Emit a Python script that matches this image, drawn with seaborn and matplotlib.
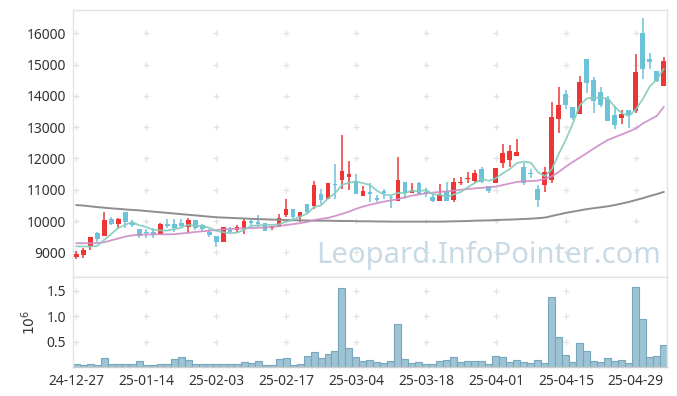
import numpy as np
import pandas as pd
import matplotlib
matplotlib.use("Agg")
import matplotlib.pyplot as plt
import seaborn as sns

# trading-day index labels (every 10th session gets a tick)
tick_pos = [0, 10, 20, 30, 40, 50, 60, 70, 80]
tick_labels = ["24-12-27", "25-01-14", "25-02-03", "25-02-17", "25-03-04",
               "25-03-18", "25-04-01", "25-04-15", "25-04-29"]

# OHLC
opens = [8860, 8915, 9180, 9607, 9533, 10055, 9895, 10280, 9948, 9735,
         9660, 9660, 9575, 9905, 9905, 9927, 9820, 10033, 9873, 9660,
         9533, 9340, 9714, 9714, 9780, 9995, 9978, 9925, 9767, 9820,
         10188, 10378, 10136, 10557, 10484, 10873, 10715, 11189, 11326, 11400,
         11294, 10799, 10926, 10746, 10947, 10770, 10641, 11252, 10900, 11206,
         10920, 10781, 10653, 10941, 10675, 11206, 11334, 11281, 11664, 11121,
         11206, 11845, 11952, 12090, 11718, 11547, 11020, 11140, 11322, 13275,
         14058, 13650, 13436, 15185, 14519, 14133, 13897, 13393, 13307, 13543,
         13521, 16021, 15185, 14809, 14326]
highs = [9040, 9130, 9500, 9640, 10300, 10140, 10087, 10300, 10030, 9760,
         9735, 9770, 9930, 10065, 10065, 10065, 10108, 10033, 9900, 9735,
         9533, 9800, 9820, 9873, 10100, 10060, 10188, 9925, 9841, 10210,
         10715, 10378, 10294, 10557, 11294, 11031, 11220, 11821, 12737, 11905,
         11505, 11105, 11210, 10820, 11031, 10820, 12052, 11252, 11220, 11260,
         11047, 10866, 11174, 11260, 11366, 11420, 11558, 11632, 11739, 11121,
         11686, 12463, 12431, 12612, 11845, 11654, 11150, 11720, 13790, 14272,
         14187, 13650, 14648, 15185, 14594, 14272, 14004, 13682, 13543, 13543,
         15346, 16504, 15378, 14809, 15238]
lows = [8800, 8810, 9075, 9340, 9520, 9870, 9735, 9780, 9800, 9470,
        9450, 9470, 9560, 9790, 9640, 9767, 9660, 9714, 9660, 9500,
        9160, 9340, 9620, 9640, 9600, 9841, 9820, 9693, 9714, 9820,
        10136, 10030, 9978, 10220, 10399, 10557, 10715, 10715, 11031, 10989,
        10852, 10799, 10610, 10610, 10715, 10400, 10641, 10715, 10900, 10834,
        10760, 10600, 10653, 10653, 10600, 11153, 11206, 11206, 11206, 10909,
        11206, 11707, 11718, 12090, 11153, 11366, 10450, 10920, 11215, 12824,
        13575, 13221, 13436, 14079, 13468, 13629, 13199, 12931, 13092, 12963,
        13468, 14541, 14862, 14433, 14326]
closes = [8960, 9075, 9480, 9426, 10033, 9895, 10055, 9980, 9873, 9520,
          9630, 9575, 9895, 9842, 9767, 9842, 10033, 9788, 9735, 9554,
          9320, 9800, 9640, 9820, 10000, 9946, 9904, 9693, 9841, 10083,
          10378, 10136, 10273, 10294, 11136, 10662, 11220, 11157, 11589, 11505,
          10852, 10947, 10873, 10662, 10905, 10720, 11315, 10884, 11000, 10866,
          10866, 10643, 10834, 10653, 11260, 11260, 11388, 11547, 11260, 10972,
          11686, 12165, 12239, 12197, 11206, 11505, 10670, 11570, 13328, 13714,
          13714, 13307, 14455, 14401, 13843, 13704, 13199, 13070, 13414, 13382,
          14777, 14862, 15099, 14487, 15131]

# moving averages as drawn
ma5 = [9190, 9185, 9185, 9200, 9395, 9582, 9778, 9878, 9967, 9865,
       9812, 9716, 9699, 9692, 9742, 9784, 9876, 9854, 9833, 9790,
       9686, 9639, 9610, 9627, 9716, 9841, 9862, 9873, 9877, 9893,
       9980, 10026, 10142, 10233, 10443, 10500, 10717, 10894, 11153, 11227,
       11265, 11210, 11153, 10968, 10848, 10821, 10895, 10897, 10965, 10957,
       10986, 10852, 10842, 10772, 10851, 10930, 11079, 11222, 11343, 11285,
       11371, 11526, 11664, 11852, 11899, 11862, 11563, 11430, 11656, 12157,
       12599, 13127, 13704, 13918, 13944, 13942, 13920, 13643, 13446, 13354,
       13568, 13901, 14307, 14521, 14871]
ma20 = [9290, 9290, 9290, 9295, 9320, 9380, 9440, 9500, 9540, 9560,
        9570, 9575, 9575, 9575, 9580, 9600, 9620, 9650, 9670, 9690,
        9710, 9735, 9745, 9755, 9765, 9775, 9785, 9790, 9810, 9840,
        9870, 9900, 9930, 9970, 10030, 10070, 10100, 10160, 10230, 10300,
        10390, 10460, 10520, 10570, 10620, 10660, 10700, 10760, 10810, 10850,
        10885, 10910, 10930, 10950, 10970, 11000, 11020, 11045, 11060, 11080,
        11100, 11150, 11200, 11250, 11270, 11280, 11290, 11350, 11430, 11570,
        11740, 11890, 12030, 12170, 12320, 12460, 12590, 12680, 12770, 12860,
        12960, 13120, 13240, 13360, 13650]
ma60 = [10510, 10495, 10470, 10445, 10425, 10405, 10390, 10370, 10355, 10340,
        10320, 10300, 10280, 10260, 10240, 10220, 10200, 10180, 10160, 10140,
        10120, 10110, 10100, 10090, 10080, 10070, 10060, 10055, 10045, 10040,
        10030, 10025, 10020, 10015, 10010, 10010, 10010, 10005, 10000, 10000,
        9995, 9990, 9990, 9985, 9985, 9980, 9980, 9980, 9980, 9980,
        9980, 9980, 9980, 9985, 9990, 9995, 10000, 10010, 10015, 10020,
        10030, 10040, 10045, 10055, 10065, 10075, 10090, 10110, 10160, 10210,
        10260, 10300, 10340, 10380, 10410, 10440, 10470, 10510, 10560, 10610,
        10670, 10730, 10800, 10860, 10930]

# volume in millions
volume = [0.077, 0.045, 0.064, 0.045, 0.19, 0.077, 0.064, 0.077, 0.064, 0.12,
          0.058, 0.058, 0.077, 0.077, 0.16, 0.20, 0.14, 0.077, 0.077, 0.064,
          0.077, 0.077, 0.064, 0.077, 0.10, 0.083, 0.12, 0.058, 0.058, 0.16,
          0.18, 0.058, 0.077, 0.23, 0.31, 0.18, 0.26, 0.33, 1.56, 0.39,
          0.21, 0.12, 0.15, 0.115, 0.096, 0.135, 0.85, 0.17, 0.096, 0.115,
          0.077, 0.077, 0.135, 0.15, 0.21, 0.115, 0.135, 0.135, 0.135, 0.077,
          0.23, 0.21, 0.115, 0.15, 0.115, 0.096, 0.15, 0.096, 1.37, 0.60,
          0.25, 0.115, 0.48, 0.33, 0.135, 0.115, 0.19, 0.135, 0.15, 0.096,
          1.58, 0.94, 0.21, 0.23, 0.44]

UP = "#ee3535"
DOWN = "#6cc2d8"
GRID = "#e2e2e2"
FRAME = "#e3e3e3"
TXT = "#333333"

sns.set_style("white")
plt.rcParams["font.family"] = ["Noto Sans", "DejaVu Sans"]

df = pd.DataFrame({"idx": np.arange(len(closes)), "open": opens, "high": highs,
                   "low": lows, "close": closes, "ma5": ma5, "ma20": ma20,
                   "ma60": ma60, "vol": volume})
df["up"] = df["close"] >= df["open"]
df["color"] = np.where(df["up"], UP, DOWN)
df["body_lo"] = df[["open", "close"]].min(axis=1)
df["body_h"] = (df["close"] - df["open"]).abs().clip(lower=25)

fig = plt.figure(figsize=(6.77, 3.96), dpi=100)
ax = fig.add_axes([0.1078, 0.3005, 0.8774, 0.6742])
axv = fig.add_axes([0.1078, 0.072, 0.8774, 0.2285], sharex=ax)

# grid drawn as small crosses at tick intersections
gx, gy = np.meshgrid(tick_pos, np.arange(9000, 16001, 1000))
ax.scatter(gx.ravel(), gy.ravel(), marker="+", s=16, color=GRID, linewidths=0.9, zorder=0)
gx, gy = np.meshgrid(tick_pos, [0.5, 1.0, 1.5])
axv.scatter(gx.ravel(), gy.ravel(), marker="+", s=16, color=GRID, linewidths=0.9, zorder=0)

ax.text(0.699, 0.052, "Leopard.InfoPointer.com", transform=ax.transAxes,
        ha="center", va="baseline", fontsize=21, color="#c7dae5", zorder=0)

# candles
ax.vlines(df["idx"], df["low"], df["high"], colors=df["color"], linewidth=1.1, zorder=2)
ax.bar(df["idx"], df["body_h"], bottom=df["body_lo"], width=0.7,
       color=df["color"], linewidth=0, zorder=3)

sns.lineplot(data=df, x="idx", y="ma60", ax=ax, color="#8e8e8e", linewidth=1.4, zorder=4)
sns.lineplot(data=df, x="idx", y="ma20", ax=ax, color="#cf8cc6", linewidth=1.3, alpha=0.9, zorder=4)
sns.lineplot(data=df, x="idx", y="ma5", ax=ax, color="#84ccbe", linewidth=1.3, alpha=0.9, zorder=4)

# volume
sns.barplot(data=df, x="idx", y="vol", ax=axv, native_scale=True, width=1.0,
            color="#9dc3d4", edgecolor="#78a6bd", linewidth=0.8, saturation=1, zorder=2)

ax.set_xlim(-0.45, 84.45)
ax.set_ylim(8210, 16745)
axv.set_ylim(0, 1.77)

ax.set_yticks(range(9000, 16001, 1000))
ax.set_yticklabels([str(v) for v in range(9000, 16001, 1000)])
axv.set_yticks([0.5, 1.0, 1.5])
axv.set_yticklabels(["0.5", "1.0", "1.5"])
axv.set_xticks(tick_pos)
axv.set_xticklabels(tick_labels)
ax.tick_params(axis="x", labelbottom=False, length=0)

for a in (ax, axv):
    a.set_xlabel("")
    a.set_ylabel("")
    a.tick_params(axis="both", length=0, labelsize=10, colors=TXT, pad=5)
    for s in a.spines.values():
        s.set_color(FRAME)
        s.set_linewidth(1)
axv.spines["bottom"].set_color("#cccccc")

axv.set_ylabel("$10^6$", fontsize=10, color=TXT)
axv.yaxis.set_label_coords(-0.058, 0.5)

fig.savefig("out.png", dpi=100)
